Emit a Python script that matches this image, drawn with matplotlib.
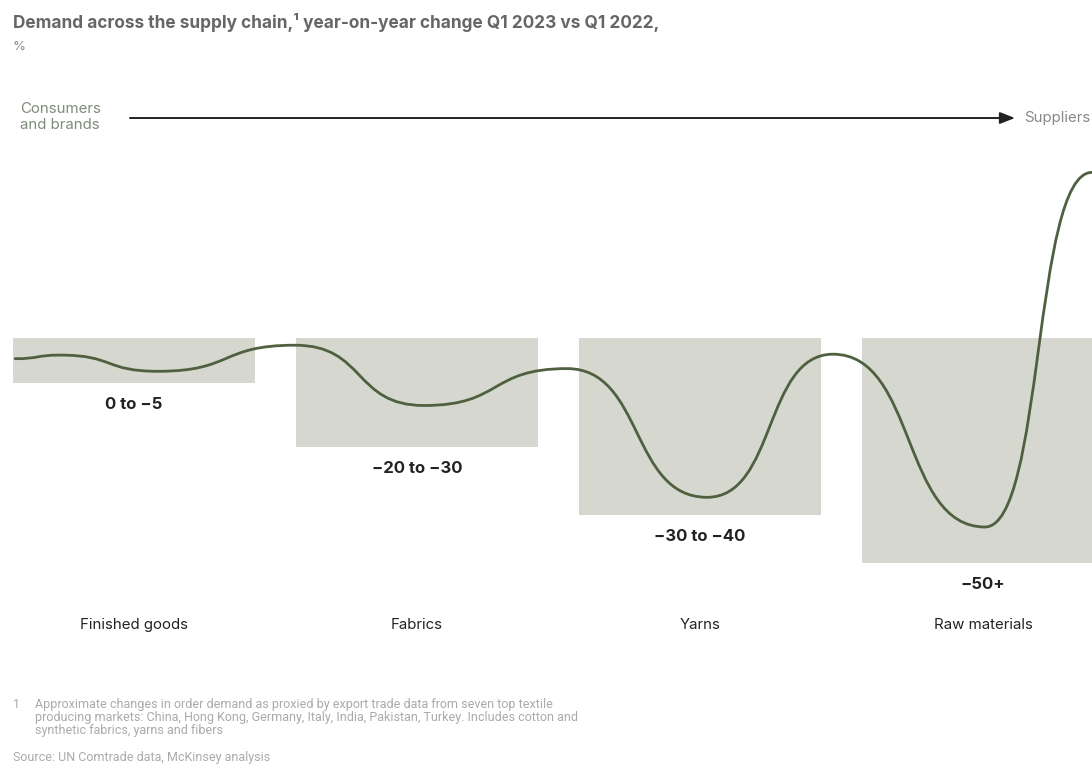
import matplotlib
matplotlib.use("Agg")
import matplotlib.pyplot as plt
import numpy as np
from matplotlib.path import Path
from matplotlib.patches import PathPatch

# --- data ---
stages = ["Finished goods", "Fabrics", "Yarns", "Raw materials"]
ranges = ["0 to \u22125", "\u221220 to \u221230", "\u221230 to \u221240", "\u221250+"]
bar_depth = [5.0, 12.1, 19.7, 25.0]   # visual depth of each shaded box

# turning points of the illustrative demand curve
# (x = position along the chain, y = box units)
curve_x = [-0.420, -0.261, 0.085, 0.569, 1.025, 1.530, 2.025, 2.470, 3.007, 3.385]
curve_y = [-2.3, -1.9, -3.7, -0.8, -7.5, -3.4, -17.7, -1.8, -21.0, 18.4]

BOX = "#d6d8cf"
LINE = "#4f6040"
GREY = "#666666"
SOFT = "#7e8c78"

W, H = 1092, 773
fig = plt.figure(figsize=(W / 100, H / 100), dpi=100)
ax = fig.add_axes([0, 0, 1, 1])
# pixel mapping: x_px = 134 + 283*x, y_px = 338 - 9*y
ax.set_xlim(-134 / 283, (W - 134) / 283)
ax.set_ylim((338 - H) / 9, 338 / 9)
ax.axis("off")

xs = np.arange(len(stages))
ax.bar(xs, [-d for d in bar_depth], width=242 / 283, color=BOX, zorder=1)


def wave_path(x, y, k=0.5):
    # cubic Beziers between turning points, flat tangents at each one
    verts = [(x[0], y[0])]
    codes = [Path.MOVETO]
    for i in range(len(x) - 1):
        dx = x[i + 1] - x[i]
        verts += [(x[i] + k * dx, y[i]), (x[i + 1] - k * dx, y[i + 1]), (x[i + 1], y[i + 1])]
        codes += [Path.CURVE4] * 3
    return Path(verts, codes)


ax.add_patch(PathPatch(wave_path(curve_x, curve_y, 0.55), fill=False, edgecolor=LINE,
                       lw=2.0, zorder=3, capstyle="round"))

for i, (lab, d) in enumerate(zip(ranges, bar_depth)):
    ax.text(i, -d - 2.4, lab, ha="center", va="center", fontsize=12,
            fontweight="bold", color="#222222", family="Inter")
    ax.text(i, -31.9, stages[i], ha="center", va="center", fontsize=10.8,
            color="#222222", family="Inter")


# header texts and arrow (figure pixel coordinates)
def fx(px):
    return px / W


def fy(py):
    return 1 - py / H


fig.text(fx(13), fy(22), "Demand across the supply chain,\u00b9 year-on-year change Q1 2023 vs Q1 2022,",
         ha="left", va="center", fontsize=12.4, fontweight="bold", color=GREY, family="Inter")
fig.text(fx(13), fy(47), "%", ha="left", va="center", fontsize=9.5, color="#888888", family="Inter")
fig.text(fx(20), fy(117), "Consumers\nand brands", ha="left", va="center", fontsize=10.8,
         color=SOFT, linespacing=1.25, family="Inter")
fig.text(fx(1024), fy(118), "Suppliers", ha="left", va="center", fontsize=10.8,
         color="#888888", family="Inter")
ax.annotate("", xy=(fx(1015), fy(118)), xytext=(fx(130), fy(118)),
            xycoords="figure fraction", textcoords="figure fraction",
            arrowprops=dict(arrowstyle="-|>,head_length=0.9,head_width=0.35",
                            color="#222222", lw=1.4, shrinkA=0, shrinkB=0))

foot = ("Approximate changes in order demand as proxied by export trade data from seven top textile\n"
        "producing markets: China, Hong Kong, Germany, Italy, India, Pakistan, Turkey. Includes cotton and\n"
        "synthetic fabrics, yarns and fibers")
fig.text(fx(13), fy(698), "1", ha="left", va="top", fontsize=9, color="#aaaaaa", family="Roboto")
fig.text(fx(35), fy(698), foot, ha="left", va="top", fontsize=9, color="#aaaaaa",
         linespacing=1.0, family="Roboto")
fig.text(fx(13), fy(758), "Source: UN Comtrade data, McKinsey analysis", ha="left", va="center",
         fontsize=9, color="#aaaaaa", family="Roboto")

fig.savefig("out.png", dpi=100)
